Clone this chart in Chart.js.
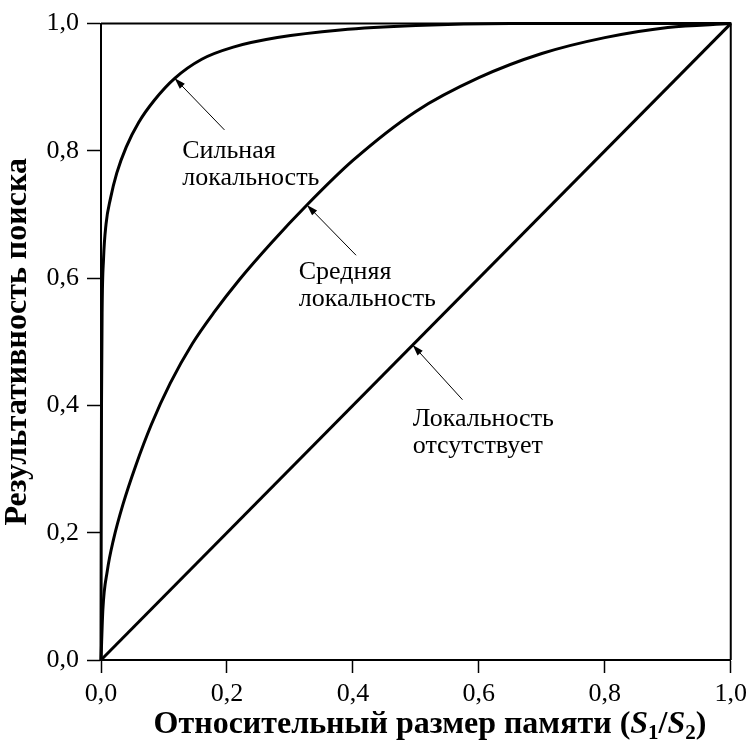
<!DOCTYPE html>
<html>
<head>
<meta charset="utf-8">
<script src="https://cdn.jsdelivr.net/npm/chart.js@4/dist/chart.umd.min.js"></script>
</head>
<body style="margin:0">
<div style="width:753px;height:742px"><canvas id="hitChart"></canvas></div>
<script>
// values
const xTicks = [0, 0.2, 0.4, 0.6, 0.8, 1.0];
const yTicks = [0, 0.2, 0.4, 0.6, 0.8, 1.0];

const strongX = [0, 0.0003, 0.0008, 0.0018, 0.004, 0.008, 0.015, 0.025, 0.04, 0.06, 0.085, 0.117, 0.16, 0.21, 0.28, 0.38, 0.5, 0.65, 1.0];
const strongY = [0, 0.2, 0.4, 0.55, 0.63, 0.685, 0.725, 0.765, 0.806, 0.845, 0.88, 0.914, 0.944, 0.963, 0.978, 0.99, 0.997, 1.0, 1.0];

const mediumX = [0, 0.003, 0.01, 0.02, 0.035, 0.055, 0.08, 0.11, 0.145, 0.18, 0.22, 0.27, 0.327, 0.4, 0.5, 0.6, 0.7, 0.8, 0.9, 1.0];
const mediumY = [0, 0.08, 0.14, 0.19, 0.245, 0.305, 0.37, 0.435, 0.497, 0.547, 0.598, 0.655, 0.715, 0.785, 0.862, 0.915, 0.953, 0.978, 0.994, 1.0];

const noneX = [0, 1.0];
const noneY = [0, 1.0];

// labels with arrow: tip on the curve, tail, text anchor (data units)
const noteLines = [['Сильная', 'локальность'], ['Средняя', 'локальность'], ['Локальность', 'отсутствует']];
const noteTip  = [[0.117, 0.914], [0.327, 0.715], [0.495, 0.495]];
const noteTail = [[0.196, 0.833], [0.405, 0.636], [0.574, 0.409]];
const noteText = [[0.129, 0.80], [0.314, 0.609], [0.495, 0.378]];

const SERIF = '"Liberation Serif"';

function pts(xs, ys) {
    let out = [];
    for (let i = 0; i < xs.length; i++) {
        out.push({ x: xs[i], y: ys[i] });
    }
    return out;
}

function fmt(v) {
    return v.toFixed(1).replace('.', ',');
}

const curve = {
    borderColor: '#000',
    borderWidth: 3,
    pointRadius: 0,
    fill: false,
    clip: false,
    cubicInterpolationMode: 'monotone'
};

// frame, notes and axis titles
const extras = {
    id: 'extras',
    afterDatasetsDraw(chart) {
        const c = chart.ctx;
        const a = chart.chartArea;
        const sx = chart.scales.x, sy = chart.scales.y;
        c.save();

        // top + right frame
        c.strokeStyle = '#000';
        c.lineWidth = 2;
        c.beginPath();
        c.moveTo(a.left, a.top);
        c.lineTo(a.right, a.top);
        c.lineTo(a.right, a.bottom);
        c.stroke();

        // notes
        c.fillStyle = '#000';
        c.font = '26px ' + SERIF;
        c.textAlign = 'left';
        c.textBaseline = 'middle';
        for (let i = 0; i < noteLines.length; i++) {
            let tx = sx.getPixelForValue(noteTip[i][0]),
                ty = sy.getPixelForValue(noteTip[i][1]),
                fx = sx.getPixelForValue(noteTail[i][0]),
                fy = sy.getPixelForValue(noteTail[i][1]);
            c.lineWidth = 1;
            c.beginPath();
            c.moveTo(fx, fy);
            c.lineTo(tx, ty);
            c.stroke();
            let ang = Math.atan2(ty - fy, tx - fx);
            let len = 11, wid = 3.5;
            c.beginPath();
            c.moveTo(tx, ty);
            c.lineTo(tx - len * Math.cos(ang) + wid * Math.sin(ang), ty - len * Math.sin(ang) - wid * Math.cos(ang));
            c.lineTo(tx - len * Math.cos(ang) - wid * Math.sin(ang), ty - len * Math.sin(ang) + wid * Math.cos(ang));
            c.closePath();
            c.fill();

            let px = sx.getPixelForValue(noteText[i][0]),
                py = sy.getPixelForValue(noteText[i][1]);
            c.fillText(noteLines[i][0], px, py);
            c.fillText(noteLines[i][1], px, py + 27);
        }

        // y title
        c.font = 'bold 32px ' + SERIF;
        c.textAlign = 'center';
        c.textBaseline = 'alphabetic';
        c.save();
        c.translate(26, (a.top + a.bottom) / 2);
        c.rotate(-Math.PI / 2);
        c.fillText('Результативность поиска', 0, 0);
        c.restore();

        // x title with italic S and subscripts
        const parts = [
            { t: 'Относительный размер памяти (', f: 'bold 32px ', dy: 0 },
            { t: 'S', f: 'italic bold 32px ', dy: 0 },
            { t: '1', f: 'bold 21px ', dy: 6 },
            { t: '/', f: 'bold 32px ', dy: 0 },
            { t: 'S', f: 'italic bold 32px ', dy: 0 },
            { t: '2', f: 'bold 21px ', dy: 6 },
            { t: ')', f: 'bold 32px ', dy: 0 }
        ];
        let total = 0;
        parts.forEach(function (p) {
            c.font = p.f + SERIF;
            p.w = c.measureText(p.t).width;
            total += p.w;
        });
        let cx = 430 - total / 2;
        c.textAlign = 'left';
        parts.forEach(function (p) {
            c.font = p.f + SERIF;
            c.fillText(p.t, cx, 733 + p.dy);
            cx += p.w;
        });

        c.restore();
    }
};

const config = {
    type: 'line',
    data: {
        datasets: [
            Object.assign({ label: 'Сильная локальность', data: pts(strongX, strongY) }, curve),
            Object.assign({ label: 'Средняя локальность', data: pts(mediumX, mediumY) }, curve),
            Object.assign({ label: 'Локальность отсутствует', data: pts(noneX, noneY) }, curve, { cubicInterpolationMode: 'default', tension: 0 })
        ]
    },
    options: {
        responsive: true,
        maintainAspectRatio: false,
        animation: false,
        layout: { padding: { top: 20, right: 18, left: 0, bottom: 0 } },
        plugins: {
            legend: { display: false },
            tooltip: { enabled: false },
            title: { display: false }
        },
        scales: {
            x: {
                type: 'linear',
                min: 0,
                max: 1,
                afterBuildTicks: function (s) { s.ticks = xTicks.map(function (v) { return { value: v }; }); },
                afterFit: function (s) { s.height = 82; },
                ticks: {
                    color: '#000',
                    font: { family: SERIF, size: 26 },
                    padding: 6,
                    maxRotation: 0,
                    callback: function (v) { return fmt(v); }
                },
                grid: { drawOnChartArea: false, tickLength: 13, tickColor: '#000', tickWidth: 1.5 },
                border: { color: '#000', width: 2 }
            },
            y: {
                type: 'linear',
                min: 0,
                max: 1,
                afterBuildTicks: function (s) { s.ticks = yTicks.map(function (v) { return { value: v }; }); },
                afterFit: function (s) { s.width = 101; },
                ticks: {
                    color: '#000',
                    font: { family: SERIF, size: 26 },
                    padding: 8,
                    callback: function (v) { return fmt(v); }
                },
                grid: { drawOnChartArea: false, tickLength: 14, tickColor: '#000', tickWidth: 1.5 },
                border: { color: '#000', width: 2 }
            }
        }
    },
    plugins: [extras]
};

const hitChart = new Chart(document.getElementById('hitChart'), config);
</script>
</body>
</html>
